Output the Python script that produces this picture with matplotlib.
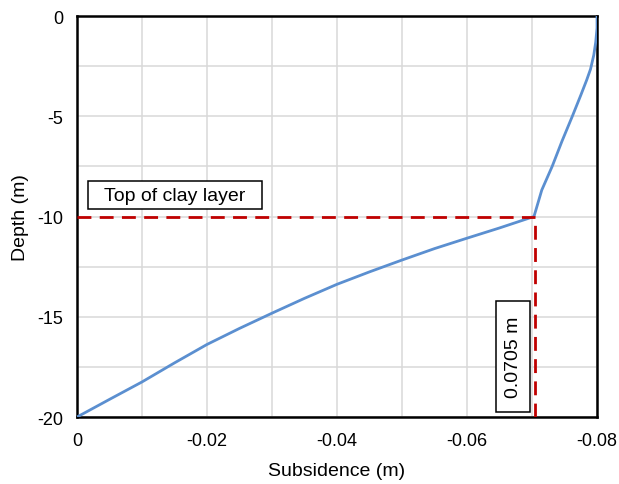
import numpy as np
import matplotlib.pyplot as plt
from matplotlib.patches import Rectangle

# perfil de recalque (m)
subsidence = [0.0, -0.0050, -0.0100, -0.0150, -0.0200, -0.0250, -0.0300, -0.0350,
              -0.0400, -0.0450, -0.0500, -0.0550, -0.0600, -0.0650, -0.0703,
              -0.0715, -0.0731, -0.0746, -0.0762, -0.0775, -0.0784, -0.0790,
              -0.0795, -0.0798, -0.0800, -0.0800]
depth = [-20.0, -19.12, -18.25, -17.3, -16.38, -15.58, -14.82, -14.08,
         -13.38, -12.76, -12.17, -11.6, -11.08, -10.57, -10.0,
         -8.68, -7.5, -6.25, -5.0, -3.95, -3.2, -2.65,
         -1.95, -1.3, -0.6, 0.0]

clay_top = -10.0
clay_subs = -0.0705

x_ticks = [0, -0.02, -0.04, -0.06, -0.08]
x_tick_labels = ['0', '-0.02', '-0.04', '-0.06', '-0.08']
y_ticks = [0, -5, -10, -15, -20]
y_tick_labels = ['0', '-5', '-10', '-15', '-20']

plt.rcParams['font.family'] = ['Liberation Sans', 'DejaVu Sans']

fig = plt.figure(figsize=(6.19, 4.85), dpi=100)
ax = fig.add_axes([0.1244, 0.1381, 0.8401, 0.8268])

ax.plot(subsidence, depth, color='#5b8fd0', lw=2, zorder=3)

# linhas tracejadas do topo da argila
ax.plot([0, clay_subs], [clay_top, clay_top], color='#c00000', lw=2, ls=(0, (5, 3)), zorder=4)
ax.plot([clay_subs, clay_subs], [-20, clay_top], color='#c00000', lw=2, ls=(0, (5, 3)), zorder=4)

ax.set_xlim(0, -0.08)
ax.set_ylim(-20, 0)
ax.set_xticks(x_ticks)
ax.set_xticklabels(x_tick_labels)
ax.set_yticks(y_ticks)
ax.set_yticklabels(y_tick_labels)
ax.set_xticks(np.arange(0, -0.0801, -0.01), minor=True)
ax.set_yticks(np.arange(0, -20.01, -2.5), minor=True)
ax.grid(True, which='both', color='#d9d9d9', lw=1.1, zorder=0)
ax.set_axisbelow(True)
ax.tick_params(which='both', length=0, labelsize=13)
ax.tick_params(axis='x', pad=11)
ax.tick_params(axis='y', pad=10)
for s in ax.spines.values():
    s.set_linewidth(1.8)
    s.set_color('black')

ax.set_xlabel('Subsidence (m)', fontsize=14, labelpad=9)
ax.set_ylabel('Depth (m)', fontsize=14, labelpad=6)

# caixas de anotação
ax.add_patch(Rectangle((-0.00169, -9.63), -0.02677, 1.40, fc='white', ec='black', lw=1.1, zorder=5))
ax.text(-0.01508, -8.93, 'Top of clay layer', fontsize=14, color='black',
        va='center', ha='center', zorder=6)
ax.add_patch(Rectangle((-0.0645, -19.75), -0.0052, 5.54, fc='white', ec='black', lw=1.1, zorder=5))
ax.text(-0.0671, -16.98, '0.0705 m', fontsize=14, color='black', rotation=90,
        va='center', ha='center', zorder=6)

plt.savefig('out.png', dpi=100)
